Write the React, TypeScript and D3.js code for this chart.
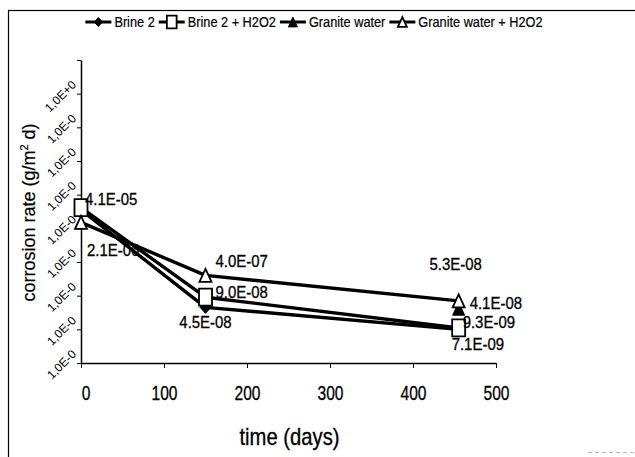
import { useEffect, useRef } from "react";
import * as d3 from "d3";

// --- measurements (days) and corrosion rates (g/m2 d)
const days = [0, 150, 455];
const brine2 = [3.5e-5, 4.5e-8, 1.0e-8];
const brine2H2O2 = [4.1e-5, 9.0e-8, 1.1e-8];
const graniteWater = [null, null, 4.1e-8];
const graniteWaterH2O2 = [1.5e-5, 4.0e-7, 7.0e-8];

const seriesNames = ["Brine 2", "Brine 2 + H2O2", "Granite water", "Granite water + H2O2"];
const seriesValues = [brine2, brine2H2O2, graniteWater, graniteWaterH2O2];
const markerKinds = ["diamond", "square", "triangle", "triangleOpen"];

const xTicks = [0, 100, 200, 300, 400, 500];
const yTicks = [1e0, 1e-1, 1e-2, 1e-3, 1e-4, 1e-5, 1e-6, 1e-7, 1e-8, 1e-9];
// labels as printed (cut off in the original)
const yTickLabels = ["1,0E+0", "1,0E-0", "1,0E-0", "1,0E-0", "1,0E-0", "1,0E-0", "1,0E-0", "1,0E-0", "1,0E-0", ""];

// data labels: series, point, text
const dataLabels = [
  { s: 1, i: 0, text: "4.1E-05", dx: 4, dy: -3, anchor: "start" },
  { s: 3, i: 0, text: "2.1E-06", dx: 6, dy: 34, anchor: "start" },
  { s: 3, i: 1, text: "4.0E-07", dx: 10, dy: -8, anchor: "start" },
  { s: 1, i: 1, text: "9.0E-08", dx: 10, dy: 1, anchor: "start" },
  { s: 0, i: 1, text: "4.5E-08", dx: 0, dy: 21, anchor: "middle" },
  { s: 3, i: 2, text: "5.3E-08", dx: -3, dy: -31, anchor: "middle" },
  { s: 2, i: 2, text: "4.1E-08", dx: 11, dy: 0, anchor: "start" },
  { s: 1, i: 2, text: "9.3E-09", dx: 4, dy: 0, anchor: "start" },
  { s: 0, i: 2, text: "7.1E-09", dx: -7, dy: 21, anchor: "start" },
];

const W = 635;
const H = 457;
const plot = { left: 81, right: 496, top: 60, bottom: 363 };
const FONT = "'Liberation Sans', Arial, sans-serif";

function markerPath(kind: string, k = 1) {
  if (kind === "diamond") {
    const w = 11 * k, h = 12 * k;
    return `M0,${-h / 2}L${w / 2},0L0,${h / 2}L${-w / 2},0Z`;
  }
  if (kind === "square") {
    const w = 13 * k, h = 17 * k;
    return `M${-w / 2},${-h / 2}h${w}v${h}h${-w}Z`;
  }
  const w = 12 * k, h = 13 * k;
  return `M0,${-h / 2}L${w / 2},${h / 2}L${-w / 2},${h / 2}Z`;
}

function drawMarker(g: any, kind: string, k = 1) {
  const open = kind === "square" || kind === "triangleOpen";
  g.append("path")
    .attr("d", markerPath(kind, k))
    .attr("fill", open ? "#fff" : "#000")
    .attr("stroke", "#000")
    .attr("stroke-width", open ? 1.8 : 1);
}

export default function App() {
  const ref = useRef<SVGSVGElement>(null);

  useEffect(() => {
    const svg = d3.select(ref.current);
    svg.selectAll("*").remove();

    svg.append("rect").attr("width", W).attr("height", H).attr("fill", "#fff");
    // chart frame
    svg.append("rect")
      .attr("x", 8.5).attr("y", 10.5).attr("width", 700).attr("height", 600)
      .attr("fill", "none").attr("stroke", "#000").attr("stroke-width", 1.2);
    svg.append("line")
      .attr("x1", 588).attr("x2", 635).attr("y1", 452.5).attr("y2", 452.5)
      .attr("stroke", "#bbb").attr("stroke-dasharray", "4 3");

    const x = d3.scaleLinear().domain([0, 500]).range([plot.left, plot.right]);
    const y = d3.scaleLog().domain([1e-9, 1e0]).range([plot.bottom, plot.top]);

    // --- x axis
    const gx = svg.append("g")
      .attr("transform", `translate(0,${plot.bottom})`)
      .call(d3.axisBottom(x).tickValues(xTicks).tickSize(5).tickSizeOuter(0).tickPadding(18));
    gx.select(".domain").attr("stroke-width", 1.5);
    gx.selectAll("text")
      .attr("font-family", FONT).attr("font-size", 20).attr("fill", "#000")
      .attr("stroke", "#000").attr("stroke-width", 0.3)
      .attr("x", (d: any) => (d === 0 ? 6 : 0))
      .attr("transform", "scale(0.78,1)");

    // --- y axis
    const gy = svg.append("g")
      .attr("transform", `translate(${plot.left},0)`)
      .call(
        d3.axisLeft(y).tickValues(yTicks).tickSize(4).tickSizeOuter(0)
          .tickFormat((_d: any, i: number) => yTickLabels[i])
      );
    gy.select(".domain").attr("stroke-width", 1.5);
    gy.selectAll("text")
      .attr("x", 0).attr("dy", 0)
      .attr("font-family", FONT).attr("font-size", 12).attr("fill", "#000")
      .attr("text-anchor", "end")
      .attr("transform", "translate(-4,25) rotate(-45)");

    // --- axis titles
    const yt = svg.append("text")
      .attr("transform", `translate(35,${(plot.top + plot.bottom) / 2 + 1}) rotate(-90)`)
      .attr("text-anchor", "middle")
      .attr("font-family", FONT).attr("font-size", 18)
      .attr("stroke", "#000").attr("stroke-width", 0.2);
    yt.append("tspan").text("corrosion rate (g/m");
    yt.append("tspan").attr("font-size", 11).attr("dy", -7).text("2");
    yt.append("tspan").attr("dy", 7).text(" d)");

    svg.append("g")
      .attr("transform", `translate(${(plot.left + plot.right) / 2 + 1},445)`)
      .append("text")
      .attr("transform", "scale(0.88,1)")
      .attr("text-anchor", "middle")
      .attr("font-family", FONT).attr("font-size", 23)
      .attr("stroke", "#000").attr("stroke-width", 0.3)
      .text("time (days)");

    // --- series
    const line = d3.line<any>()
      .defined((d) => d.v != null)
      .x((d) => x(d.day))
      .y((d) => y(d.v));

    seriesValues.forEach((vals, s) => {
      const pts = days.map((day, i) => ({ day, v: vals[i] }));
      svg.append("path")
        .attr("d", line(pts))
        .attr("fill", "none").attr("stroke", "#000")
        .attr("stroke-width", 3.4).attr("stroke-linejoin", "round");
      pts.filter((p) => p.v != null).forEach((p) => {
        const g = svg.append("g").attr("transform", `translate(${x(p.day)},${y(p.v as number)})`);
        drawMarker(g, markerKinds[s]);
      });
    });

    // --- data labels
    dataLabels.forEach((l) => {
      const v = seriesValues[l.s][l.i] as number;
      svg.append("g")
        .attr("transform", `translate(${x(days[l.i]) + l.dx},${y(v) + l.dy})`)
        .append("text")
        .attr("transform", "scale(0.88,1)")
        .attr("text-anchor", l.anchor)
        .attr("font-family", FONT).attr("font-size", 17)
        .attr("stroke", "#000").attr("stroke-width", 0.3)
        .text(l.text);
    });

    // --- legend
    const legend = svg.append("g");
    const sx = 0.85;
    let cx = 0;
    seriesNames.forEach((name, s) => {
      const item = legend.append("g").attr("transform", `translate(${cx},0)`);
      item.append("line").attr("x1", 0).attr("x2", 26)
        .attr("stroke", "#000").attr("stroke-width", 3);
      drawMarker(item.append("g").attr("transform", "translate(13,0)"), markerKinds[s], 0.75);
      const t = item.append("g").attr("transform", "translate(29,5)")
        .append("text")
        .attr("transform", `scale(${sx},1)`)
        .attr("font-family", FONT).attr("font-size", 15)
        .attr("stroke", "#000").attr("stroke-width", 0.2)
        .text(name);
      const len = (t.node() as SVGTextElement).getComputedTextLength() * sx;
      cx += 29 + len + 4;
    });
    const total = cx - 4;
    legend.attr("transform", `translate(${314 - total / 2},22)`);
  }, []);

  return (
    <svg
      ref={ref}
      width={W}
      height={H}
      style={{ position: "absolute", left: 0, top: 0, display: "block" }}
    />
  );
}
